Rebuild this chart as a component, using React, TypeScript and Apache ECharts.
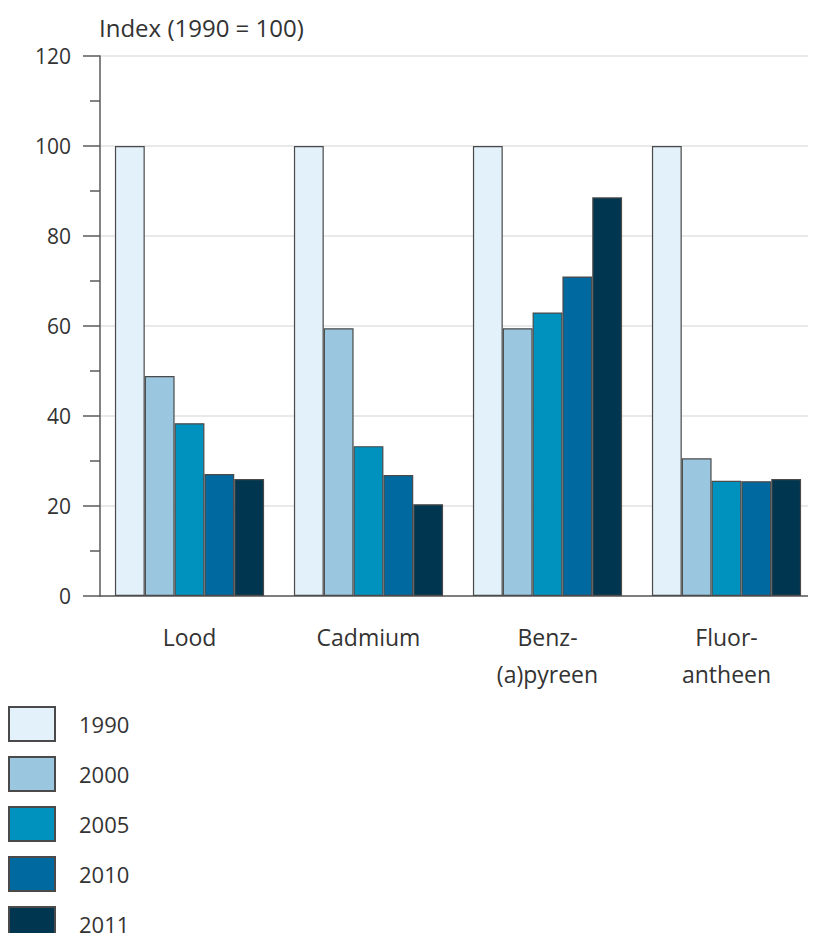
import React, { useEffect, useRef } from "react";
import * as echarts from "echarts";

const categories = ["Lood", "Cadmium", "Benz-\n(a)pyreen", "Fluor-\nantheen"];
const years = ["1990", "2000", "2005", "2010", "2011"];
const values1990 = [100, 100, 100, 100];
const values2000 = [48.9, 59.5, 59.5, 30.6];
const values2005 = [38.4, 33.3, 63.0, 25.6];
const values2010 = [27.1, 26.9, 71.0, 25.5];
const values2011 = [26.0, 20.4, 88.6, 26.0];
const yTicks = { min: 0, max: 120, interval: 20 };

const seriesValues = [values1990, values2000, values2005, values2010, values2011];
const colors = ["#e2f1fa", "#9ac6df", "#0092bf", "#006aa0", "#00364f"];
const FONT = "'Open Sans', 'Noto Sans', sans-serif";
const TEXT = "#333333";

export default function App() {
  const ref = useRef<HTMLDivElement>(null);

  useEffect(() => {
    if (!ref.current) return;
    const chart = echarts.init(ref.current, undefined, { renderer: "svg" });
    chart.setOption({
      animation: false,
      backgroundColor: "#ffffff",
      textStyle: { fontFamily: FONT, color: TEXT },
      title: {
        text: "Index (1990 = 100)",
        left: 99,
        top: 15,
        padding: 0,
        textStyle: { fontFamily: FONT, fontSize: 24, fontWeight: "normal", color: TEXT },
      },
      grid: { left: 100, top: 56, width: 722, height: 540, containLabel: false },
      legend: {
        orient: "vertical",
        left: 8,
        top: 706,
        height: 300,
        padding: 0,
        itemWidth: 46,
        itemHeight: 34,
        itemGap: 14,
        icon: "rect",
        selectedMode: false,
        data: years,
        textStyle: {
          fontFamily: FONT,
          fontSize: 22,
          lineHeight: 28,
          color: TEXT,
          padding: [0, 0, 0, 19],
        },
      },
      xAxis: {
        type: "category",
        data: categories,
        axisLine: { show: true, lineStyle: { color: "#5a5a5a", width: 1.5 } },
        axisTick: { show: false },
        axisLabel: {
          margin: 22,
          fontFamily: FONT,
          fontSize: 23,
          lineHeight: 37,
          color: TEXT,
          interval: 0,
        },
      },
      yAxis: {
        type: "value",
        min: yTicks.min,
        max: yTicks.max,
        interval: yTicks.interval,
        axisLine: { show: true, lineStyle: { color: "#5a5a5a", width: 1.5 } },
        axisTick: { show: true, length: 17, lineStyle: { color: "#5a5a5a", width: 1.5 } },
        minorTick: { show: true, splitNumber: 2, length: 10, lineStyle: { color: "#5a5a5a", width: 1.5 } },
        splitLine: { show: true, lineStyle: { color: "#e2e2e2", width: 1.5 } },
        axisLabel: { margin: 29, fontFamily: FONT, fontSize: 21, color: TEXT },
      },
      series: years.map((y, i) => ({
        name: y,
        type: "bar",
        data: seriesValues[i],
        barGap: "0%",
        barCategoryGap: "16.67%",
        itemStyle: { color: colors[i], borderColor: "#4a4a4a", borderWidth: 1.2 },
      })),
    });
    return () => chart.dispose();
  }, []);

  return <div ref={ref} style={{ width: 816, height: 941, margin: -8 }} />;
}
